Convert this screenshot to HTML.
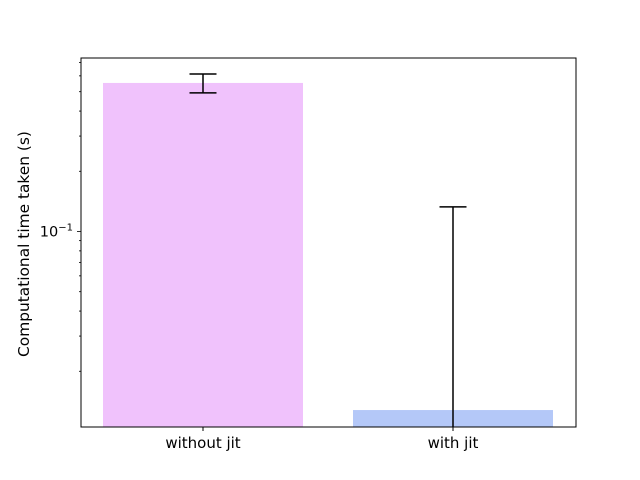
<!DOCTYPE html>
<html><head><meta charset="utf-8"><style>body{margin:0;background:#fff}svg{display:block;font-family:"DejaVu Sans","Liberation Sans",sans-serif}</style></head>
<body>
<svg id="chart" width="640" height="480"></svg>
<script>
const categories = ["without jit", "with jit"];
const values = [0.553, 0.0128];
const errors = [0.06, 0.12];
const colors = ["#f0c2fc", "#b4c8f8"];
const majorTicks = [0.1];
const minorTicks = [0.02,0.03,0.04,0.05,0.06,0.07,0.08,0.09,0.2,0.3,0.4,0.5,0.6,0.7];

const NS = "http://www.w3.org/2000/svg";
const svg = document.getElementById("chart");
const L = 81, R = 576, T = 58, B = 427;
const yMin = 0.01053, yMax = 0.737;
function y(v){ v=Math.max(v,yMin*0.5); return B - (Math.log10(v)-Math.log10(yMin))/(Math.log10(yMax)-Math.log10(yMin))*(B-T); }
function x(i){ return L + 22 + 100 + i*250; }
function mk(tag, attrs, parent){ const e=document.createElementNS(NS,tag); for(const k in attrs) e.setAttribute(k,attrs[k]); (parent||svg).appendChild(e); return e; }

const clip = mk("clipPath",{id:"clip"}); mk("rect",{x:L,y:T,width:R-L,height:B-T},clip);
const plot = mk("g",{"clip-path":"url(#clip)"});



categories.forEach((c,i)=>{
  const b = mk("rect",{x:x(i)-100,y:y(values[i]),width:200,height:B-y(values[i]),fill:colors[i]},plot);
  
  
  const hi = y(values[i]+errors[i]), lo = y(values[i]-errors[i] > 0 ? values[i]-errors[i] : 1e-9);
  const g = mk("g",{stroke:"#000","stroke-width":1.5},plot);
  
  
  mk("line",{x1:x(i),x2:x(i),y1:hi,y2:lo},g);
  mk("line",{x1:x(i)-13.5,x2:x(i)+13.5,y1:hi,y2:hi},g);
  if (values[i]-errors[i] > 0) mk("line",{x1:x(i)-13.5,x2:x(i)+13.5,y1:lo,y2:lo},g);
  mk("line",{x1:x(i),x2:x(i),y1:B,y2:B+4,stroke:"#000"});
  const t = mk("text",{x:x(i),y:B+21,"text-anchor":"middle","font-size":"15"});
  t.textContent = c;
  
  
});

minorTicks.forEach(v=>{ mk("line",{x1:L-2,x2:L,y1:y(v),y2:y(v),stroke:"#000","stroke-width":0.8}); });
majorTicks.forEach(v=>{
  mk("line",{x1:L-4,x2:L,y1:y(v),y2:y(v),stroke:"#000","stroke-width":0.8});
  const t = mk("text",{x:L-8,y:y(v)+5,"text-anchor":"end","font-size":"14.5"});
  t.innerHTML = '10<tspan dy="-6" font-size="10">−1</tspan>';
  
  
});

const frame = mk("rect",{x:L,y:T,width:R-L,height:B-T,fill:"none",stroke:"#000","stroke-width":1});


const yl = mk("text",{x:0,y:0,"text-anchor":"middle","font-size":"15.4",transform:"translate(29,244) rotate(-90)"});
yl.textContent = "Computational time taken (s)";


</script>
</body></html>
